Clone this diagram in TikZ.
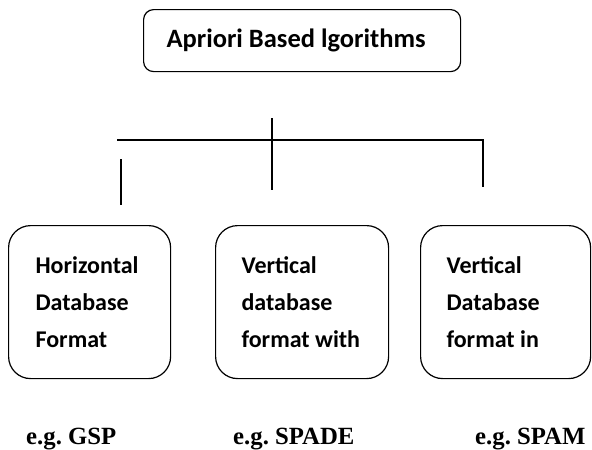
\documentclass[tikz,border=0pt]{standalone}
\usepackage{fontspec}
\setmainfont{Liberation Serif}
\newfontfamily\boxfont{Carlito}
\frenchspacing
\begin{document}
\begin{tikzpicture}[x=1pt,y=-1pt,every text node part/.style={align=flush left}]
\tikzstyle{every node}+=[inner ysep=0pt]
\tikzstyle{algbox}=[draw=black,line width=1.2pt,rounded corners=22pt,anchor=north west,minimum height=153pt,inner xsep=27pt,font=\boxfont\bfseries\fontsize{24}{37}\selectfont]
\tikzstyle{example}=[anchor=base west,inner sep=0pt,font=\bfseries\fontsize{24.75}{30}\selectfont]
\tikzstyle{branch}=[black,line width=1.5pt]
\useasboundingbox (0,0) rectangle (592,450);
\node [draw=black,line width=1.2pt,rounded corners=10pt,anchor=north west,text width=271pt,minimum height=62pt,inner xsep=23pt,font=\boxfont\bfseries\fontsize{26.5}{30}\selectfont] (top) at (143,9) {Apriori Based lgorithms};
\node [algbox,text width=108pt] (horiz) at (8,225) {Horizontal\\Database\\Format};
\node [algbox,text width=121pt,inner xsep=26pt] (vertw) at (215,225) {Vertical\\database\\format~with};
\node [algbox,text width=118pt,inner xsep=26pt] (verti) at (420,225) {Vertical\\Database\\format in};
\node [example] (gsp) at (26,444) {e.g. GSP};
\node [example] (spade) at (233,444) {e.g. SPADE};
\node [example] (spam) at (475,444) {e.g. SPAM};
\coordinate (barL) at (117,140);
\coordinate (barR) at (483,140);
\coordinate (stemT) at (272,118);
\coordinate (stemB) at (272,190);
\coordinate (dropR) at (483,187);
\coordinate (tickT) at (121,159);
\coordinate (tickB) at (121,205);
\draw [branch] (barL) -- (barR) -- (dropR);
\draw [branch] (stemT) -- (stemB);
\draw [branch] (tickT) -- (tickB);
\end{tikzpicture}
\end{document}
